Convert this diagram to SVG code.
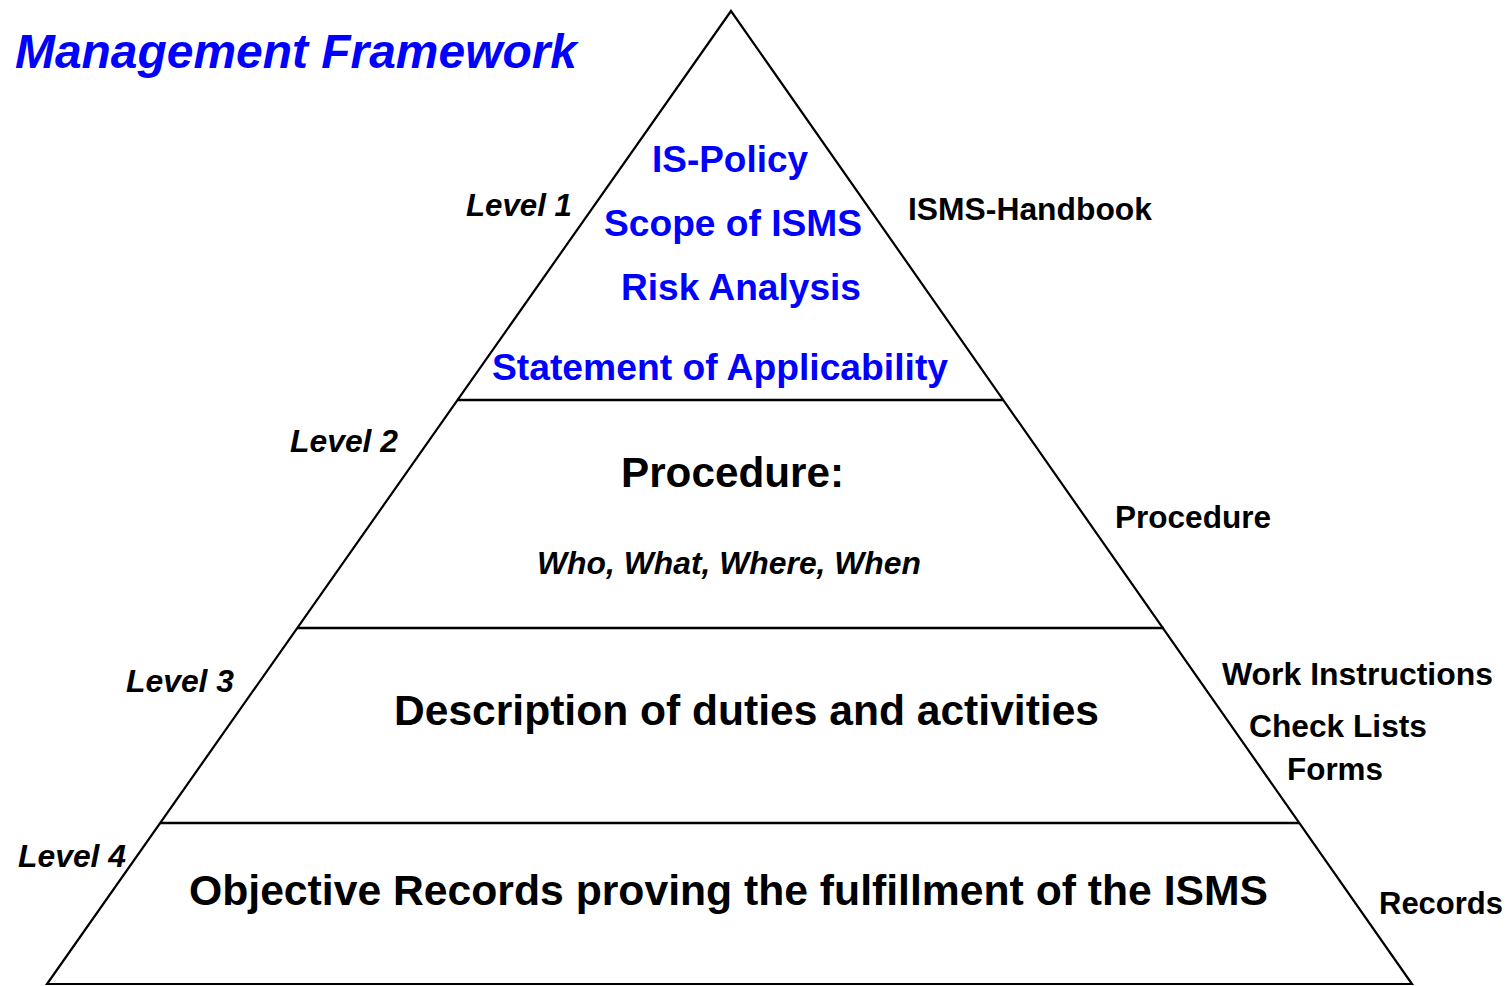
<svg xmlns="http://www.w3.org/2000/svg" width="1511" height="986" viewBox="0 0 1511 986">
<style>
text{font-family:"Liberation Sans",Arial,sans-serif;font-weight:bold}
.blue{fill:#0000FF}
.blk{fill:#000}
.it{font-style:italic}
.edge{stroke:#000;stroke-width:2.2;fill:none}
.div{stroke:#000;stroke-width:2.6;fill:none}
</style>
<rect width="1511" height="986" fill="#fff"/>
<text class="blue it" x="15" y="68" font-size="48" textLength="562" lengthAdjust="spacingAndGlyphs">Management Framework</text>
<g id="pyramid">
<polygon class="edge" points="731,11 47,984 1412,984" stroke-linejoin="miter"/>
</g>
<g id="connectors">
<line class="div" x1="457" y1="400" x2="1003" y2="400"/>
<line class="div" x1="297" y1="628" x2="1164" y2="628"/>
<line class="div" x1="160" y1="823" x2="1299" y2="823"/>
</g>
<g id="level1">
<text class="blk it" x="466" y="216" font-size="32" textLength="106" lengthAdjust="spacingAndGlyphs">Level 1</text>
<text class="blue" x="652" y="172" font-size="36" textLength="156" lengthAdjust="spacingAndGlyphs">IS-Policy</text>
<text class="blue" x="604" y="236" font-size="36" textLength="258" lengthAdjust="spacingAndGlyphs">Scope of ISMS</text>
<text class="blue" x="621" y="300" font-size="36" textLength="240" lengthAdjust="spacingAndGlyphs">Risk Analysis</text>
<text class="blue" x="492" y="380" font-size="36" textLength="456" lengthAdjust="spacingAndGlyphs">Statement of Applicability</text>
<text class="blk" x="908" y="220" font-size="32" textLength="244" lengthAdjust="spacingAndGlyphs">ISMS-Handbook</text>
</g>
<g id="level2">
<text class="blk it" x="290" y="452" font-size="32" textLength="108" lengthAdjust="spacingAndGlyphs">Level 2</text>
<text class="blk" x="621" y="487" font-size="42" textLength="223" lengthAdjust="spacingAndGlyphs">Procedure:</text>
<text class="blk it" x="537" y="574" font-size="32" textLength="384" lengthAdjust="spacingAndGlyphs">Who, What, Where, When</text>
<text class="blk" x="1115" y="528" font-size="32" textLength="156" lengthAdjust="spacingAndGlyphs">Procedure</text>
</g>
<g id="level3">
<text class="blk it" x="126" y="692" font-size="32" textLength="108" lengthAdjust="spacingAndGlyphs">Level 3</text>
<text class="blk" x="394" y="725" font-size="42" textLength="705" lengthAdjust="spacingAndGlyphs">Description of duties and activities</text>
<text class="blk" x="1222" y="685" font-size="32" textLength="271" lengthAdjust="spacingAndGlyphs">Work Instructions</text>
<text class="blk" x="1249" y="737" font-size="32" textLength="178" lengthAdjust="spacingAndGlyphs">Check Lists</text>
<text class="blk" x="1287" y="780" font-size="32" textLength="96" lengthAdjust="spacingAndGlyphs">Forms</text>
</g>
<g id="level4">
<text class="blk it" x="18" y="867" font-size="32" textLength="108" lengthAdjust="spacingAndGlyphs">Level 4</text>
<text class="blk" x="189" y="905" font-size="42" textLength="1079" lengthAdjust="spacingAndGlyphs">Objective Records proving the fulfillment of the ISMS</text>
<text class="blk" x="1379" y="914" font-size="32" textLength="124" lengthAdjust="spacingAndGlyphs">Records</text>
</g>
</svg>
